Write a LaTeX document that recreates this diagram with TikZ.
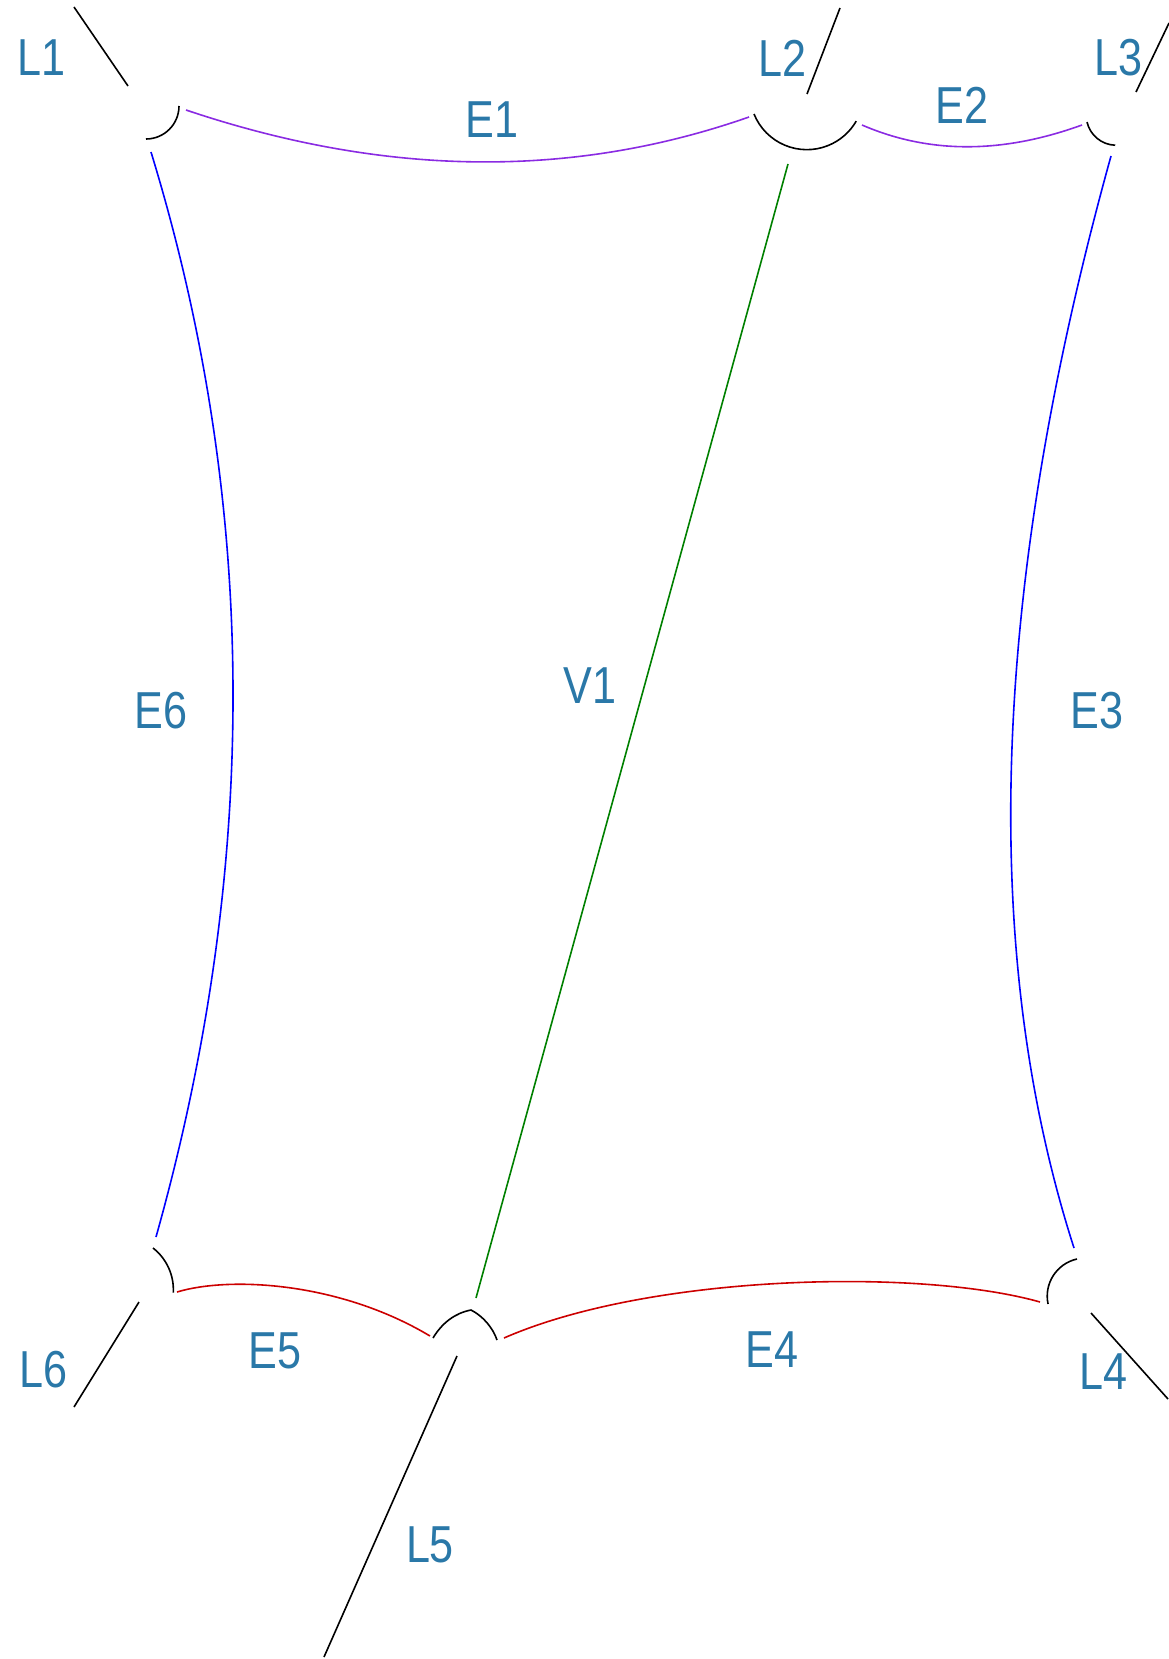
\documentclass[tikz,border=0pt]{standalone}
\usepackage{fontspec}
\setmainfont{Liberation Sans}[FakeStretch=0.83]
\definecolor{lblue}{RGB}{42,120,168}
\definecolor{epurple}{RGB}{138,43,226}
\definecolor{ered}{RGB}{204,0,0}
\definecolor{egreen}{RGB}{0,128,0}
\definecolor{eblue}{RGB}{0,0,255}
\begin{document}
\begin{tikzpicture}[x=1pt,y=-1pt,
  lbl/.style={text=lblue,inner sep=0pt,font=\fontsize{52}{52}\selectfont},
  edge/.style={line width=1.6pt},
  leg/.style={line width=1.6pt,black},
  cusp/.style={line width=1.6pt,black}]
\useasboundingbox (0,0) rectangle (1169,1659);
% labels
\node[lbl] (tL1) at (42,58) {L1};
\node[lbl] (tL2) at (782,58) {L2};
\node[lbl] (tL3) at (1118,58) {L3};
\node[lbl] (tE1) at (492,120) {E1};
\node[lbl] (tE2) at (962,105) {E2};
\node[lbl] (tE6) at (161,711) {E6};
\node[lbl] (tV1) at (590,686) {V1};
\node[lbl] (tE3) at (1097,711) {E3};
\node[lbl] (tE5) at (275,1351) {E5};
\node[lbl] (tE4) at (772,1350) {E4};
\node[lbl] (tL4) at (1103,1372) {L4};
\node[lbl] (tL5) at (430,1545) {L5};
\node[lbl] (tL6) at (44,1370) {L6};
% curve end points
\coordinate (e1a) at (186,110);  \coordinate (e1b) at (749,117);
\coordinate (e2a) at (862,125);  \coordinate (e2b) at (1082,125);
\coordinate (e6a) at (151,152);  \coordinate (e6b) at (156,1237);
\coordinate (e3a) at (1111,156); \coordinate (e3b) at (1074,1248);
\coordinate (e5a) at (177,1292); \coordinate (e5b) at (430,1336);
\coordinate (e4a) at (504,1338); \coordinate (e4b) at (1040,1302);
\coordinate (v1a) at (788,164);  \coordinate (v1b) at (476,1298);
% leg end points
\coordinate (l1a) at (74,7);     \coordinate (l1b) at (128,86);
\coordinate (l2a) at (840,8);    \coordinate (l2b) at (807,94);
\coordinate (l3a) at (1169,23);  \coordinate (l3b) at (1136,92);
\coordinate (l4a) at (1091,1313);\coordinate (l4b) at (1168,1399);
\coordinate (l5a) at (457,1356); \coordinate (l5b) at (324,1657);
\coordinate (l6a) at (139,1302); \coordinate (l6b) at (74,1407);
% cusp start points
\coordinate (c1) at (146,139);
\coordinate (c2) at (754,114);
\coordinate (c3) at (1087,122);
\coordinate (c4) at (1077,1259);
\coordinate (c5a) at (433,1338);
\coordinate (c5p) at (471,1310);
\coordinate (c5b) at (497,1340);
\coordinate (c6) at (153,1248);
% edges
\draw[edge,epurple] (e1a) .. controls (385,177) and (572,179) .. (e1b);
\draw[edge,epurple] (e2a) .. controls (929,154) and (1002,154) .. (e2b);
\draw[edge,eblue] (e6a) .. controls (259,505) and (260,867) .. (e6b);
\draw[edge,eblue] (e3a) .. controls (992,585) and (978,949) .. (e3b);
\draw[edge,ered] (e5a) .. controls (230,1276) and (340,1282) .. (e5b);
\draw[edge,ered] (e4a) .. controls (650,1274) and (920,1268) .. (e4b);
\draw[edge,egreen] (v1a) -- (v1b);
% legs
\draw[leg] (l1a) -- (l1b);
\draw[leg] (l2a) -- (l2b);
\draw[leg] (l3a) -- (l3b);
\draw[leg] (l4a) -- (l4b);
\draw[leg] (l5a) -- (l5b);
\draw[leg] (l6a) -- (l6b);
% cusps
\draw[cusp] (c1) arc[start angle=90,end angle=0,radius=33];
\draw[cusp] (c2) arc[start angle=158,end angle=30,radius=57];
\draw[cusp] (c3) arc[start angle=167,end angle=92,radius=30];
\draw[cusp] (c4) arc[start angle=257.5,end angle=168,radius=38];
\draw[cusp] (c6) arc[start angle=-52,end angle=3,radius=53];
\draw[cusp] (c5a) .. controls (442,1323) and (455,1313) .. (c5p)
  .. controls (483,1316) and (493,1328) .. (c5b);
\end{tikzpicture}
\end{document}
